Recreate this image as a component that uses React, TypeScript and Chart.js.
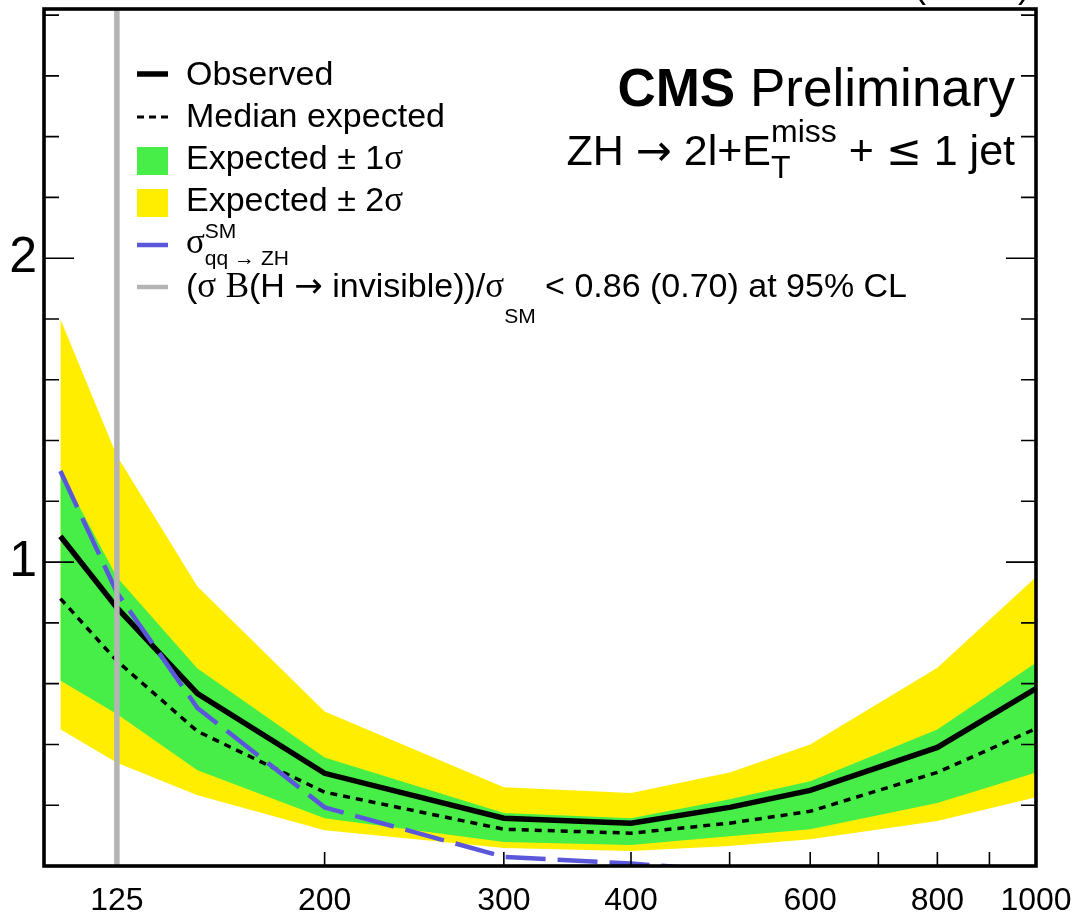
import React, { useEffect, useRef } from 'react';
import { Chart, registerables } from 'chart.js';

Chart.register(...registerables);

// ---- data ----
const masses = [110, 125, 150, 200, 300, 400, 500, 600, 800, 1000];
const observed = [1.085, 0.85, 0.567, 0.305, 0.157, 0.141, 0.193, 0.249, 0.39, 0.584];
const expectedMedian = [0.88, 0.675, 0.443, 0.243, 0.121, 0.108, 0.141, 0.18, 0.308, 0.452];
const expected1sUp = [1.3, 0.95, 0.65, 0.357, 0.174, 0.157, 0.22, 0.279, 0.449, 0.669];
const expected1sDown = [0.61, 0.5, 0.315, 0.157, 0.079, 0.069, 0.098, 0.121, 0.207, 0.308];
const expected2sUp = [1.8, 1.35, 0.92, 0.508, 0.259, 0.24, 0.308, 0.4, 0.652, 0.951];
const expected2sDown = [0.45, 0.34, 0.233, 0.118, 0.059, 0.049, 0.066, 0.088, 0.148, 0.226];
const sigmaSMMasses = [110, 125, 150, 200, 300, 400, 500];
const sigmaSM = [1.3, 0.9, 0.52, 0.193, 0.03, 0.008, -0.015];
const higgsMass = 125;

// ---- axes ----
const X_MIN = 106;
const X_MAX = 1000;
const Y_MIN = 0;
const Y_MAX = 2.82;
const xTickValues = [125, 200, 300, 400, 600, 800, 1000];
const xTickMarks = [200, 300, 400, 500, 600, 700, 800, 900, 1000];
const yTickValues = [1, 2];
const yTickLabels = ['1', '2'];
const yMinorStep = 0.2;

const SANS = '"Liberation Sans", Arial, Helvetica, sans-serif';
const SERIF = '"Liberation Serif", "Times New Roman", serif';
const SYM = '"DejaVu Sans", sans-serif';

const pts = (xs: number[], ys: number[]) => xs.map((x, i) => ({ x, y: ys[i] }));

type Seg = { t?: string; f?: string; dy?: number; stack?: Seg[] };

function segWidth(ctx: CanvasRenderingContext2D, s: Seg): number {
  if (s.stack) return Math.max(...s.stack.map((q) => segWidth(ctx, q)));
  ctx.font = s.f as string;
  return ctx.measureText(s.t as string).width;
}

function drawRich(ctx: CanvasRenderingContext2D, segs: Seg[], x: number, y: number, align: 'left' | 'right') {
  const total = segs.reduce((a, s) => a + segWidth(ctx, s), 0);
  let cx = align === 'right' ? x - total : x;
  ctx.textAlign = 'left';
  ctx.textBaseline = 'alphabetic';
  ctx.fillStyle = '#000';
  for (const s of segs) {
    const w = segWidth(ctx, s);
    const parts = s.stack ? s.stack : [s];
    for (const p of parts) {
      ctx.font = p.f as string;
      ctx.fillText(p.t as string, cx, y + (p.dy || 0));
    }
    cx += w;
  }
}

const decorPlugin = {
  id: 'cmsDecor',
  afterDatasetsDraw(chart: any) {
    const ctx: CanvasRenderingContext2D = chart.ctx;
    const { left, right, top, bottom } = chart.chartArea;
    const xs = chart.scales.x;
    const ys = chart.scales.y;
    ctx.save();
    // ticks
    ctx.strokeStyle = '#000';
    ctx.lineWidth = 1.6;
    ctx.beginPath();
    for (let v = yMinorStep; v < Y_MAX; v += yMinorStep) {
      const rv = Math.round(v * 10) / 10;
      const py = ys.getPixelForValue(rv);
      const len = yTickValues.includes(rv) ? 30 : 15;
      ctx.moveTo(left, py);
      ctx.lineTo(left + len, py);
      ctx.moveTo(right, py);
      ctx.lineTo(right - len, py);
    }
    for (const v of xTickMarks) {
      const px = xs.getPixelForValue(v);
      ctx.moveTo(px, bottom);
      ctx.lineTo(px, bottom - 14);
    }
    ctx.stroke();
    // frame
    ctx.lineWidth = 3.6;
    ctx.strokeRect(left, top, right - left, bottom - top);

    // header texts
    drawRich(ctx, [{ t: '19.7 fb⁻¹ (8 TeV)', f: `36px ${SANS}` }], 1030, -3, 'right');
    drawRich(
      ctx,
      [
        { t: 'CMS', f: `bold 53px ${SANS}` },
        { t: ' Preliminary', f: `53px ${SANS}` },
      ],
      1015,
      106,
      'right'
    );
    drawRich(
      ctx,
      [
        { t: 'ZH ', f: `43px ${SANS}` },
        { t: '→', f: `43px ${SYM}` },
        { t: ' 2l+E', f: `43px ${SANS}` },
        {
          stack: [
            { t: 'miss', f: `32px ${SANS}`, dy: -23 },
            { t: 'T', f: `32px ${SANS}`, dy: 13 },
          ],
        },
        { t: ' + ', f: `43px ${SANS}` },
        { t: '≤', f: `43px ${SYM}` },
        { t: ' 1 jet', f: `43px ${SANS}` },
      ],
      1015,
      165,
      'right'
    );

    // legend
    const lx0 = 137;
    const lx1 = 168;
    const tx = 186;
    const LF = `34px ${SANS}`;
    const AF = `34px ${SYM}`;
    const GF = `35px ${SERIF}`;
    const SF = `21px ${SANS}`;
    const SAF = `21px ${SYM}`;
    ctx.lineCap = 'butt';
    // observed
    ctx.strokeStyle = '#000';
    ctx.lineWidth = 5.5;
    ctx.setLineDash([]);
    ctx.beginPath();
    ctx.moveTo(lx0, 74);
    ctx.lineTo(lx1, 74);
    ctx.stroke();
    drawRich(ctx, [{ t: 'Observed', f: LF }], tx, 85, 'left');
    // median
    ctx.lineWidth = 3;
    ctx.setLineDash([7, 5]);
    ctx.beginPath();
    ctx.moveTo(lx0, 117);
    ctx.lineTo(lx1, 117);
    ctx.stroke();
    ctx.setLineDash([]);
    drawRich(ctx, [{ t: 'Median expected', f: LF }], tx, 127, 'left');
    // green / yellow boxes
    ctx.fillStyle = '#47ee47';
    ctx.fillRect(lx0, 147, lx1 - lx0, 28);
    drawRich(ctx, [{ t: 'Expected ± 1', f: LF }, { t: 'σ', f: GF }], tx, 169, 'left');
    ctx.fillStyle = '#ffee00';
    ctx.fillRect(lx0, 189, lx1 - lx0, 28);
    drawRich(ctx, [{ t: 'Expected ± 2', f: LF }, { t: 'σ', f: GF }], tx, 211, 'left');
    // sigma SM
    ctx.strokeStyle = '#5b57db';
    ctx.lineWidth = 4.5;
    ctx.beginPath();
    ctx.moveTo(lx0, 245);
    ctx.lineTo(lx1, 245);
    ctx.stroke();
    drawRich(
      ctx,
      [
        { t: 'σ', f: GF },
        {
          stack: [
            { t: 'SM', f: SF, dy: -15 },
            { t: 'qq → ZH', f: SF, dy: 12 },
          ],
        },
      ],
      tx,
      253,
      'left'
    );
    // higgs line
    ctx.strokeStyle = '#b4b4b4';
    ctx.lineWidth = 4.5;
    ctx.beginPath();
    ctx.moveTo(lx0, 287);
    ctx.lineTo(lx1, 287);
    ctx.stroke();
    drawRich(
      ctx,
      [
        { t: '(', f: LF },
        { t: 'σ', f: GF },
        { t: ' ', f: LF },
        { t: 'B', f: GF },
        { t: '(H ', f: LF },
        { t: '→', f: AF },
        { t: ' invisible))/', f: LF },
        { t: 'σ', f: GF },
        { t: 'SM', f: SF, dy: 26 },
        { t: ' < 0.86 (0.70) at 95% CL', f: LF },
      ],
      tx,
      297,
      'left'
    );
    void SAF;
    ctx.restore();
  },
};

export default function App() {
  const ref = useRef<HTMLCanvasElement | null>(null);
  useEffect(() => {
    if (!ref.current) return;
    const noLine = 'rgba(0,0,0,0)';
    const chart = new Chart(ref.current, {
      type: 'line',
      data: {
        datasets: [
          {
            label: 'Higgs mass',
            data: [
              { x: higgsMass, y: Y_MIN },
              { x: higgsMass, y: Y_MAX },
            ],
            borderColor: '#b4b4b4',
            borderWidth: 5.5,
            pointRadius: 0,
            fill: false,
          },
          {
            label: 'sigma SM qq->ZH',
            data: pts(sigmaSMMasses, sigmaSM),
            borderColor: '#5b57db',
            borderWidth: 4.5,
            borderDash: [40, 12],
            pointRadius: 0,
            fill: false,
          },
          {
            label: 'Observed',
            data: pts(masses, observed),
            borderColor: '#000',
            borderWidth: 5.5,
            pointRadius: 0,
            fill: false,
          },
          {
            label: 'Median expected',
            data: pts(masses, expectedMedian),
            borderColor: '#000',
            borderWidth: 3.5,
            borderDash: [7, 6],
            pointRadius: 0,
            fill: false,
          },
          {
            label: 'Expected +1 sigma',
            data: pts(masses, expected1sUp),
            borderColor: noLine,
            borderWidth: 0.01,
            backgroundColor: '#47ee47',
            pointRadius: 0,
            fill: '+1',
          },
          {
            label: 'Expected -1 sigma',
            data: pts(masses, expected1sDown),
            borderColor: noLine,
            borderWidth: 0.01,
            pointRadius: 0,
            fill: false,
          },
          {
            label: 'Expected +2 sigma',
            data: pts(masses, expected2sUp),
            borderColor: noLine,
            borderWidth: 0.01,
            backgroundColor: '#ffee00',
            pointRadius: 0,
            fill: '+1',
          },
          {
            label: 'Expected -2 sigma',
            data: pts(masses, expected2sDown),
            borderColor: noLine,
            borderWidth: 0.01,
            pointRadius: 0,
            fill: false,
          },
        ],
      },
      options: {
        animation: false,
        responsive: false,
        maintainAspectRatio: false,
        layout: { padding: { top: 9, right: 40, left: 0, bottom: 0 } },
        elements: { line: { tension: 0 } },
        plugins: {
          legend: { display: false },
          tooltip: { enabled: false },
        },
        scales: {
          x: {
            type: 'logarithmic',
            min: X_MIN,
            max: X_MAX,
            grid: { display: false, drawTicks: false },
            border: { display: false },
            afterBuildTicks: (s: any) => {
              s.ticks = xTickValues.map((v) => ({ value: v }));
            },
            afterFit: (s: any) => {
              s.height = 57;
              s.paddingLeft = 0;
              s.paddingRight = 0;
              s.paddingTop = 0;
              s.paddingBottom = 0;
            },
            ticks: {
              autoSkip: false,
              maxRotation: 0,
              padding: 16,
              color: '#000',
              font: { family: SANS, size: 32 },
              callback: (v: any) => String(v),
            },
          },
          y: {
            type: 'linear',
            min: Y_MIN,
            max: Y_MAX,
            grid: { display: false, drawTicks: false },
            border: { display: false },
            afterBuildTicks: (s: any) => {
              s.ticks = yTickValues.map((v) => ({ value: v }));
            },
            afterFit: (s: any) => {
              s.width = 44;
              s.paddingLeft = 0;
              s.paddingRight = 0;
              s.paddingTop = 0;
              s.paddingBottom = 0;
            },
            ticks: {
              padding: 7,
              color: '#000',
              font: { family: SANS, size: 50 },
              callback: (v: any) => {
                const i = yTickValues.indexOf(Number(v));
                return i >= 0 ? yTickLabels[i] : '';
              },
            },
          },
        },
      },
      plugins: [decorPlugin],
    } as any);
    return () => chart.destroy();
  }, []);
  return (
    <div style={{ position: 'fixed', left: 0, top: 0, width: 1076, height: 923, background: '#fff' }}>
      <canvas ref={ref} width={1076} height={923} style={{ display: 'block', width: 1076, height: 923 }} />
    </div>
  );
}
